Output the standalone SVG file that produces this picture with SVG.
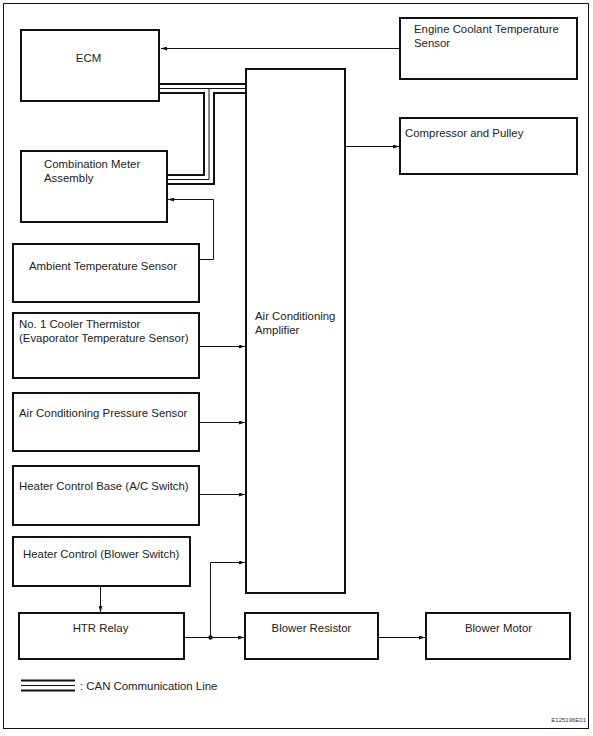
<svg xmlns="http://www.w3.org/2000/svg" width="593" height="736" viewBox="0 0 593 736">
<style>
.box{fill:#fff;stroke:#111;stroke-width:2}
.t{font-family:"Liberation Sans",Arial,sans-serif;font-size:11.4px;fill:#222}
.ln{fill:none;stroke:#111;stroke-width:1}
.can{fill:none;stroke:#111;stroke-width:2}
.canm{fill:none;stroke:#111;stroke-width:1}
</style>
<defs>
<marker id="ar" markerWidth="6" markerHeight="4" refX="6" refY="2" orient="auto" markerUnits="userSpaceOnUse">
<path d="M0,0 L6,2 L0,4 Z" fill="#111"/>
</marker>
</defs>
<rect x="0" y="0" width="593" height="736" fill="#fff"/>
<rect x="3.5" y="3.5" width="585" height="725" fill="none" stroke="#111" stroke-width="1"/>

<g id="connectors">
<line class="ln" x1="400" y1="48.5" x2="161" y2="48.5" marker-end="url(#ar)"/>
<line class="ln" x1="345" y1="146.5" x2="399" y2="146.5" marker-end="url(#ar)"/>
<polyline class="ln" points="199,259.5 213.5,259.5 213.5,199.5 168,199.5" marker-end="url(#ar)"/>
<line class="ln" x1="199" y1="346.5" x2="245" y2="346.5" marker-end="url(#ar)"/>
<line class="ln" x1="199" y1="422.5" x2="245" y2="422.5" marker-end="url(#ar)"/>
<line class="ln" x1="199" y1="494.5" x2="245" y2="494.5" marker-end="url(#ar)"/>
<line class="ln" x1="100.5" y1="586" x2="100.5" y2="612" marker-end="url(#ar)"/>
<line class="ln" x1="184" y1="637.5" x2="244" y2="637.5" marker-end="url(#ar)"/>
<polyline class="ln" points="210.5,637.5 210.5,562.5 245,562.5" marker-end="url(#ar)"/>
<circle cx="210.5" cy="637.5" r="2.2" fill="#111"/>
<line class="ln" x1="378" y1="637.5" x2="425" y2="637.5" marker-end="url(#ar)"/>
<!-- CAN bus -->
<polyline class="can" points="160,84 246,84"/>
<polyline class="canm" points="160,88.5 209,88.5 209,179.5 167,179.5"/>
<line class="canm" x1="209" y1="88.5" x2="246" y2="88.5"/>
<polyline class="can" points="160,93 204,93 204,175 167,175"/>
<polyline class="can" points="246,93 214,93 214,184 167,184"/>
</g>

<g id="ecm"><rect class="box" x="21" y="30" width="138" height="71"/><text class="t" x="88.5" y="62" text-anchor="middle">ECM</text></g>
<g id="ect"><rect class="box" x="400" y="18" width="177" height="61"/><text class="t" x="414" y="33">Engine Coolant Temperature</text><text class="t" x="414" y="46.5">Sensor</text></g>
<g id="amp"><rect class="box" x="246" y="69" width="99" height="524"/><text class="t" x="255" y="320">Air Conditioning</text><text class="t" x="255" y="334">Amplifier</text></g>
<g id="comp"><rect class="box" x="400" y="118" width="177" height="56"/><text class="t" x="405" y="137">Compressor and Pulley</text></g>
<g id="meter"><rect class="box" x="21" y="151" width="146" height="71"/><text class="t" x="44" y="168">Combination Meter</text><text class="t" x="44" y="182">Assembly</text></g>
<g id="ambient"><rect class="box" x="13" y="244" width="186" height="58"/><text class="t" x="29" y="270">Ambient Temperature Sensor</text></g>
<g id="thermistor"><rect class="box" x="13" y="313" width="186" height="65"/><text class="t" x="19" y="328">No. 1 Cooler Thermistor</text><text class="t" x="19" y="342">(Evaporator Temperature Sensor)</text></g>
<g id="pressure"><rect class="box" x="13" y="393" width="186" height="58"/><text class="t" x="19" y="417">Air Conditioning Pressure Sensor</text></g>
<g id="acswitch"><rect class="box" x="13" y="466" width="186" height="59"/><text class="t" x="19" y="490">Heater Control Base (A/C Switch)</text></g>
<g id="blowerswitch"><rect class="box" x="13" y="537" width="177" height="49"/><text class="t" x="23" y="558">Heater Control (Blower Switch)</text></g>
<g id="htr"><rect class="box" x="19" y="613" width="165" height="46"/><text class="t" x="100.5" y="632" text-anchor="middle">HTR Relay</text></g>
<g id="resistor"><rect class="box" x="245" y="613" width="133" height="46"/><text class="t" x="311.5" y="632" text-anchor="middle">Blower Resistor</text></g>
<g id="motor"><rect class="box" x="426" y="613" width="144" height="46"/><text class="t" x="498.5" y="632" text-anchor="middle">Blower Motor</text></g>

<g id="legend">
<line class="can" x1="21" y1="680.5" x2="75" y2="680.5"/>
<line class="canm" x1="21" y1="685.5" x2="75" y2="685.5"/>
<line class="can" x1="21" y1="690.5" x2="75" y2="690.5"/>
<text class="t" x="80" y="690">: CAN Communication Line</text>
<text x="586" y="722" text-anchor="end" style="font-family:'Liberation Sans',Arial,sans-serif;font-size:6px;fill:#333">E125196E01</text>
</g>
</svg>
